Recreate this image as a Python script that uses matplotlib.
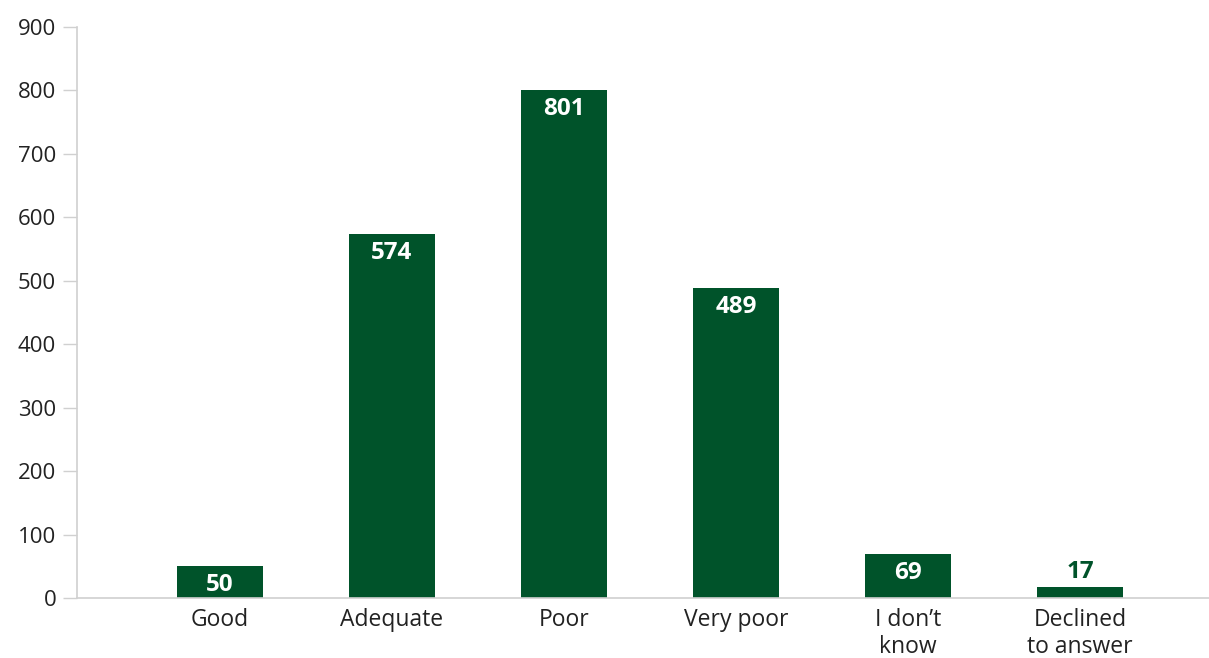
import numpy as np
import matplotlib.pyplot as plt

categories = ["Good", "Adequate", "Poor", "Very poor", "I don\u2019t\nknow", "Declined\nto answer"]
counts = [50, 574, 801, 489, 69, 17]
yticks = [0, 100, 200, 300, 400, 500, 600, 700, 800, 900]

green = "#00532A"
grey = "#d0d0d0"
plt.rcParams['font.family'] = ['Open Sans', 'DejaVu Sans']

fig = plt.figure(figsize=(12.09, 6.58), dpi=100)
ax = fig.add_axes([0.0637, 0.0912, 0.9363, 0.868])

x = np.arange(len(categories))
bars = ax.bar(x, counts, width=0.5, color=green)

ax.set_xlim(-0.831, 5.75)
ax.set_ylim(0, 900)
ax.set_yticks(yticks)
ax.set_xticks(x)
ax.set_xticklabels(categories, fontsize=16.5, color="#222222", linespacing=1.2)
ax.tick_params(axis='x', length=0, pad=7)
ax.tick_params(axis='y', length=10, width=1, color=grey, labelsize=16,
               labelcolor="#222222", pad=5)

for s in ['top', 'right']:
    ax.spines[s].set_visible(False)
for s in ['left', 'bottom']:
    ax.spines[s].set_color(grey)
    ax.spines[s].set_linewidth(1.2)

# value labels: inside the bar, or above if the bar is too short
for xi, v in zip(x, counts):
    if v >= 40:
        ax.annotate(str(v), (xi, v), xytext=(0, -5), textcoords='offset points',
                    ha='center', va='top', color='white', fontsize=17.5, fontweight='bold')
    else:
        ax.annotate(str(v), (xi, v), xytext=(0, 2), textcoords='offset points',
                    ha='center', va='bottom', color=green, fontsize=17.5, fontweight='bold')

fig.savefig("out.png", dpi=100)
